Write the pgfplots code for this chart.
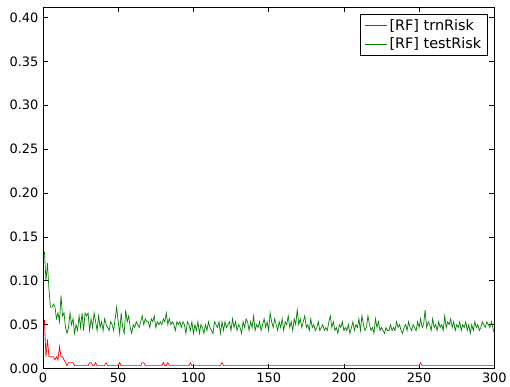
\documentclass[border=0pt]{standalone}
\usepackage{pgfplots}
\pgfplotsset{compat=1.18}
\usepackage{fontspec}
\setmainfont{DejaVu Sans}

\definecolor{mplred}{rgb}{1,0,0}
\definecolor{mplgreen}{rgb}{0,0.5,0}

% training risk per iteration: baseline 1/300 with small bumps
\pgfplotstableread{
x y
1 0.0550
2 0.0133
3 0.0333
4 0.0133
5 0.0133
6 0.0133
7 0.0133
8 0.0100
9 0.0133
10 0.0100
11 0.0250
12 0.0133
13 0.0133
14 0.0100
15 0.0067
16 0.0033
17 0.0067
18 0.0067
19 0.0067
20 0.0067
21 0.0033
30 0.0033
31 0.0067
32 0.0067
33 0.0033
34 0.0033
35 0.0067
36 0.0033
41 0.0033
42 0.0067
43 0.0033
50 0.0033
51 0.0067
52 0.0033
65 0.0033
66 0.0067
67 0.0067
68 0.0033
79 0.0033
80 0.0067
81 0.0033
82 0.0033
83 0.0067
84 0.0033
97 0.0033
98 0.0067
99 0.0033
118 0.0033
119 0.0067
120 0.0033
250 0.0033
251 0.0067
252 0.0033
300 0.0033
}\trnrisk

% test risk per iteration
\pgfplotstableread{
x y
1 0.1333
2 0.1000
3 0.1200
4 0.0900
5 0.0700
6 0.0700
7 0.0733
8 0.0700
9 0.0567
10 0.0633
11 0.0533
12 0.0833
13 0.0600
14 0.0633
15 0.0467
16 0.0400
17 0.0467
18 0.0633
19 0.0500
20 0.0567
21 0.0400
22 0.0500
23 0.0433
24 0.0600
25 0.0467
26 0.0633
27 0.0433
28 0.0633
29 0.0600
30 0.0633
31 0.0433
32 0.0567
33 0.0467
34 0.0633
35 0.0533
36 0.0433
37 0.0600
38 0.0467
39 0.0533
40 0.0433
41 0.0567
42 0.0500
43 0.0467
44 0.0433
45 0.0533
46 0.0500
47 0.0433
48 0.0567
49 0.0700
50 0.0533
51 0.0400
52 0.0633
53 0.0467
54 0.0400
55 0.0667
56 0.0533
57 0.0600
58 0.0467
59 0.0400
60 0.0500
61 0.0467
62 0.0533
63 0.0500
64 0.0467
65 0.0533
66 0.0600
67 0.0500
68 0.0567
69 0.0533
70 0.0533
71 0.0467
72 0.0567
73 0.0533
74 0.0600
75 0.0467
76 0.0533
77 0.0500
78 0.0533
79 0.0500
80 0.0567
81 0.0533
82 0.0633
83 0.0500
84 0.0567
85 0.0500
86 0.0533
87 0.0500
88 0.0433
89 0.0533
90 0.0500
91 0.0533
92 0.0467
93 0.0533
94 0.0500
95 0.0400
96 0.0533
97 0.0500
98 0.0433
99 0.0533
100 0.0400
101 0.0500
102 0.0433
103 0.0533
104 0.0400
105 0.0500
106 0.0467
107 0.0400
108 0.0500
109 0.0433
110 0.0533
111 0.0467
112 0.0433
113 0.0400
114 0.0533
115 0.0500
116 0.0467
117 0.0533
118 0.0400
119 0.0533
120 0.0433
121 0.0533
122 0.0467
123 0.0500
124 0.0533
125 0.0433
126 0.0567
127 0.0467
128 0.0533
129 0.0433
130 0.0500
131 0.0467
132 0.0400
133 0.0533
134 0.0467
135 0.0567
136 0.0533
137 0.0433
138 0.0533
139 0.0467
140 0.0600
141 0.0433
142 0.0500
143 0.0467
144 0.0533
145 0.0433
146 0.0500
147 0.0567
148 0.0467
149 0.0533
150 0.0433
151 0.0633
152 0.0533
153 0.0467
154 0.0567
155 0.0500
156 0.0433
157 0.0533
158 0.0467
159 0.0567
160 0.0433
161 0.0533
162 0.0500
163 0.0600
164 0.0467
165 0.0533
166 0.0433
167 0.0567
168 0.0500
169 0.0667
170 0.0500
171 0.0567
172 0.0467
173 0.0533
174 0.0600
175 0.0467
176 0.0500
177 0.0433
178 0.0567
179 0.0467
180 0.0500
181 0.0433
182 0.0467
183 0.0533
184 0.0433
185 0.0467
186 0.0500
187 0.0433
188 0.0467
189 0.0433
190 0.0533
191 0.0600
192 0.0467
193 0.0533
194 0.0433
195 0.0467
196 0.0400
197 0.0500
198 0.0467
199 0.0533
200 0.0433
201 0.0467
202 0.0433
203 0.0500
204 0.0400
205 0.0467
206 0.0533
207 0.0433
208 0.0500
209 0.0467
210 0.0567
211 0.0433
212 0.0600
213 0.0500
214 0.0433
215 0.0467
216 0.0600
217 0.0500
218 0.0433
219 0.0467
220 0.0400
221 0.0567
222 0.0467
223 0.0533
224 0.0433
225 0.0467
226 0.0433
227 0.0400
228 0.0467
229 0.0433
230 0.0433
231 0.0500
232 0.0433
233 0.0467
234 0.0433
235 0.0533
236 0.0467
237 0.0500
238 0.0433
239 0.0400
240 0.0467
241 0.0500
242 0.0433
243 0.0533
244 0.0467
245 0.0433
246 0.0500
247 0.0467
248 0.0433
249 0.0533
250 0.0467
251 0.0567
252 0.0467
253 0.0500
254 0.0667
255 0.0467
256 0.0533
257 0.0500
258 0.0433
259 0.0567
260 0.0467
261 0.0500
262 0.0433
263 0.0533
264 0.0467
265 0.0500
266 0.0433
267 0.0600
268 0.0467
269 0.0533
270 0.0500
271 0.0567
272 0.0467
273 0.0533
274 0.0433
275 0.0500
276 0.0467
277 0.0533
278 0.0433
279 0.0500
280 0.0467
281 0.0533
282 0.0433
283 0.0500
284 0.0400
285 0.0500
286 0.0433
287 0.0533
288 0.0467
289 0.0500
290 0.0433
291 0.0467
292 0.0533
293 0.0500
294 0.0467
295 0.0533
296 0.0500
297 0.0467
298 0.0533
299 0.0467
300 0.0400
}\testrisk

\begin{document}
\begin{tikzpicture}
\begin{axis}[
  scale only axis,
  width=452bp, height=362bp,
  xmin=0, xmax=300,
  ymin=0, ymax=0.412,
  xtick={0,50,...,300},
  ytick={0,0.05,...,0.40},
  tick align=inside,
  major tick length=5bp,
  minor tick num=0,
  xtick pos=both, ytick pos=both,
  axis line style={black, line width=0.6bp},
  tick style={black, line width=0.6bp},
  every tick label/.append style={font=\fontsize{13}{15}\selectfont},
  /pgf/number format/assume math mode=true,
  yticklabel style={xshift=-1bp, /pgf/number format/.cd, fixed, fixed zerofill, precision=2},
  xticklabel style={yshift=-1bp, /pgf/number format/.cd, fixed, precision=0},
  scaled y ticks=false,
  legend cell align=left,
  legend style={
    at={(rel axis cs:0.985,0.98)}, anchor=north east,
    draw=black, line width=0.6bp,
    font=\fontsize{14.5}{17}\selectfont,
    inner xsep=4bp, inner ysep=3bp,
    row sep=2bp,
  },
  legend image code/.code={\draw[#1, line width=1bp] (0bp,0bp) -- (22bp,0bp);},
]
\addplot[color=mplred, line width=0.7bp,
  legend image post style={draw=mplred}] table[x=x, y=y] {\trnrisk};
\addlegendentry{[RF] trnRisk}
\addplot[color=mplgreen, line width=0.7bp,
  legend image post style={draw=mplgreen}] table[x=x, y=y] {\testrisk};
\addlegendentry{[RF] testRisk}
\end{axis}
% margin to the left of the tick labels and above the frame
\path ([xshift=-43bp, yshift=7bp]current axis.north west);
\end{tikzpicture}
\end{document}
